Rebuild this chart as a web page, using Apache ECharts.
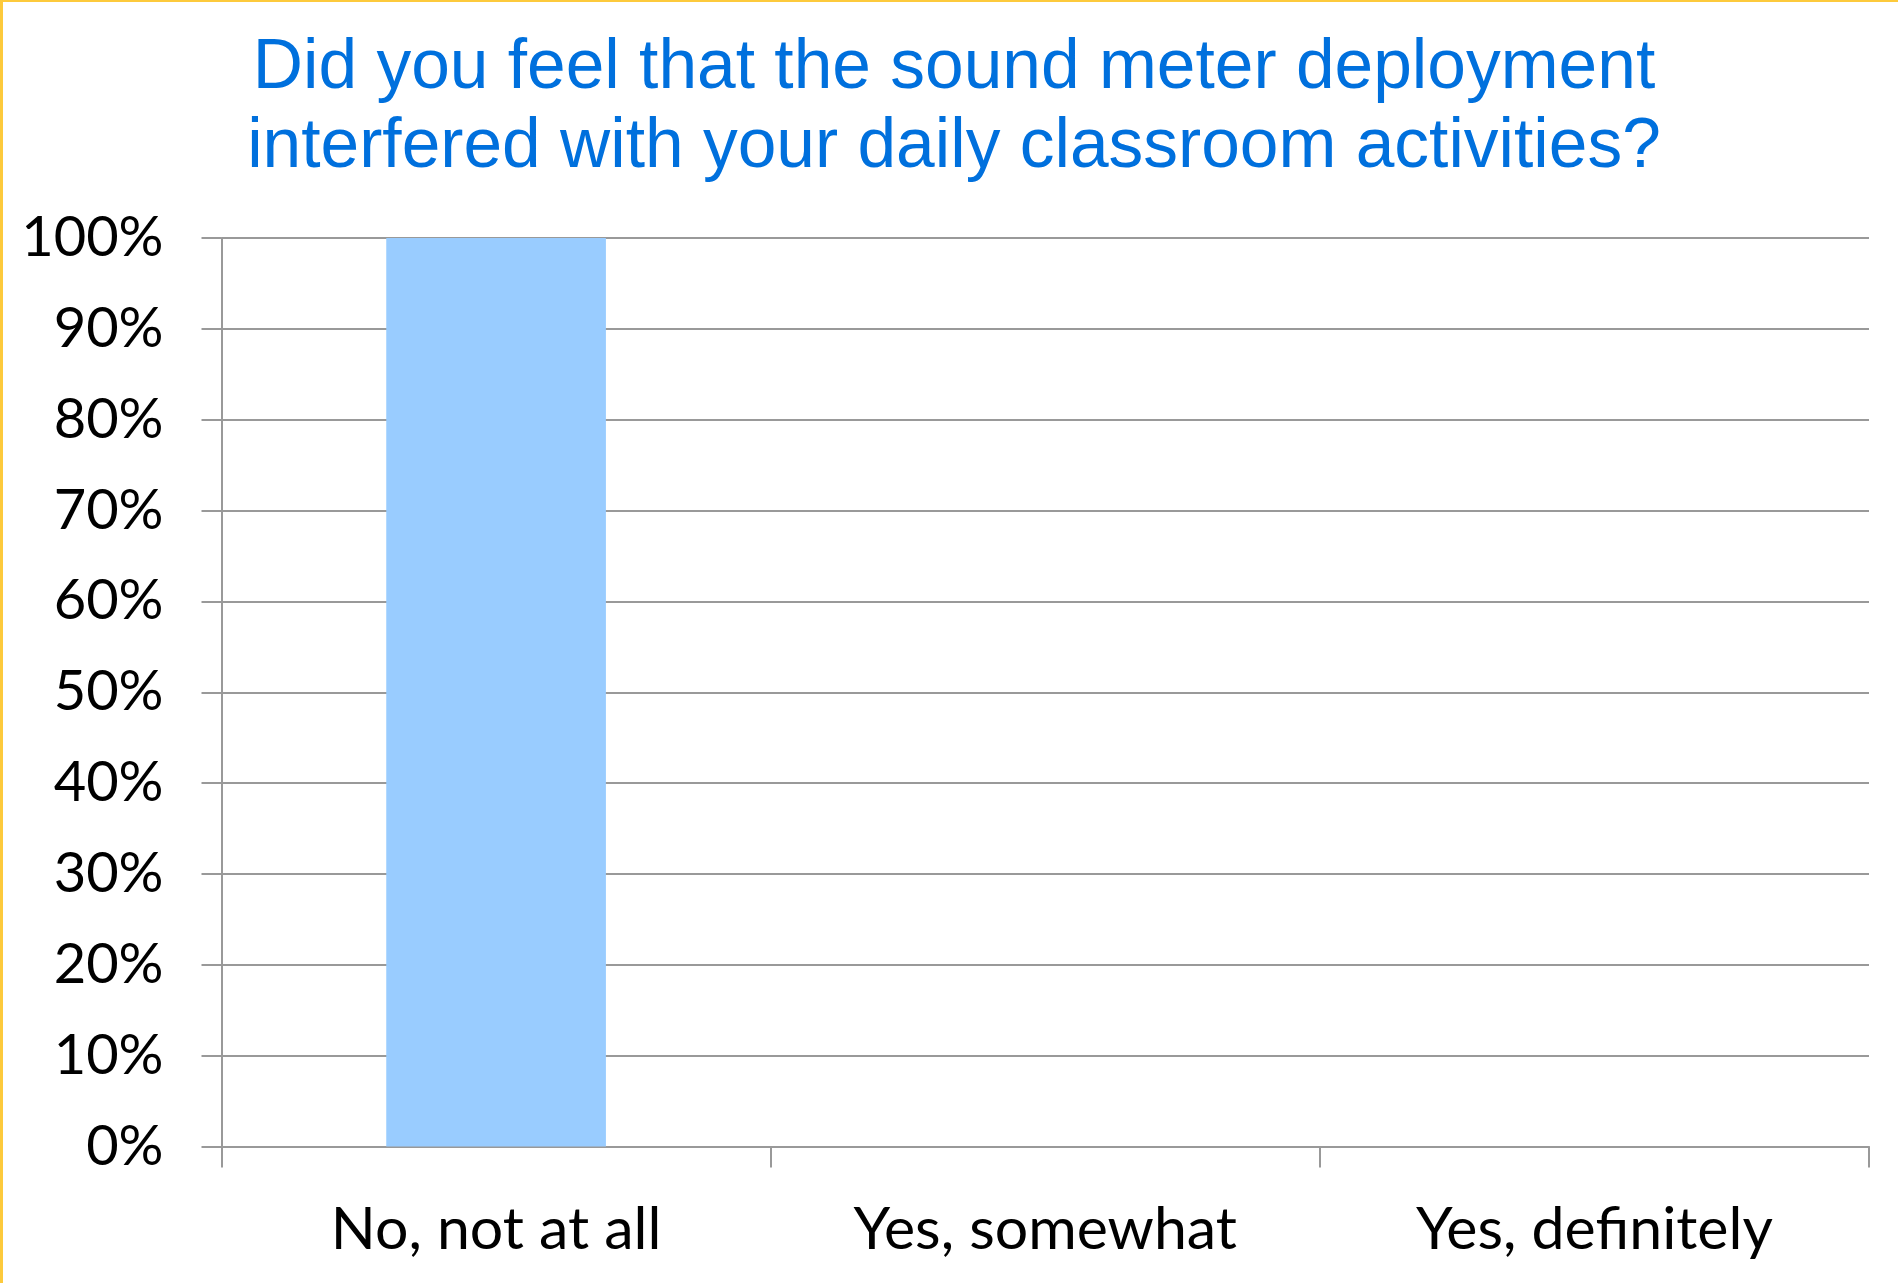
<!DOCTYPE html>
<html>
<head>
<meta charset="utf-8">
<script src="https://cdn.jsdelivr.net/npm/echarts@6/dist/echarts.min.js"></script>
<style>
  html, body { margin: 0; padding: 0; background: #fff; }
  #wrap { position: relative; width: 1898px; height: 1283px; }
  #chart { width: 1898px; height: 1283px; }
  #frame {
    position: absolute; left: 0; top: 0; right: 0; bottom: 0;
    border-top: 2px solid #fdca3c; border-left: 3px solid #fdca3c;
    pointer-events: none;
  }
</style>
</head>
<body>
<div id="wrap">
  <div id="chart"></div>
  <div id="frame"></div>
</div>
<script>
// survey answers
var categories = ['No, not at all', 'Yes, somewhat', 'Yes, definitely'];
var percentValues = [100, 0, 0];
var yTicks = { min: 0, max: 100, step: 10 };

var titleText = 'Did you feel that the sound meter deployment\ninterfered with your daily classroom activities?';

var myChart = echarts.init(document.getElementById('chart'));

myChart.setOption({
  backgroundColor: '#ffffff',
  animation: false,
  title: {
    text: titleText,
    left: 949,
    top: 24,
    textAlign: 'center',
    textStyle: {
      fontFamily: 'Liberation Sans',
      fontSize: 69.5,
      fontWeight: 'normal',
      color: '#0070dd',
      lineHeight: 79
    }
  },
  grid: {
    left: 221.5,
    right: 29,
    top: 238,
    bottom: 136.5,
    containLabel: false
  },
  xAxis: {
    type: 'category',
    data: categories,
    boundaryGap: true,
    axisLine: { lineStyle: { color: '#999999', width: 2 } },
    axisTick: { show: true, length: 21, lineStyle: { color: '#999999', width: 2 } },
    axisLabel: {
      margin: 54,
      fontFamily: 'Lato',
      fontSize: 59,
      color: '#000000'
    },
    splitLine: { show: false }
  },
  yAxis: {
    type: 'value',
    min: yTicks.min,
    max: yTicks.max,
    interval: yTicks.step,
    axisLine: { show: true, lineStyle: { color: '#999999', width: 2 } },
    axisTick: { show: true, length: 20, lineStyle: { color: '#999999', width: 2 } },
    axisLabel: {
      formatter: '{value}%',
      margin: 58,
      fontFamily: 'Lato',
      fontSize: 56,
      color: '#000000'
    },
    splitLine: { show: true, lineStyle: { color: '#999999', width: 2 } }
  },
  series: [
    {
      type: 'bar',
      data: percentValues,
      barWidth: '40%',
      itemStyle: { color: '#99ccff' }
    }
  ]
});
</script>
</body>
</html>
